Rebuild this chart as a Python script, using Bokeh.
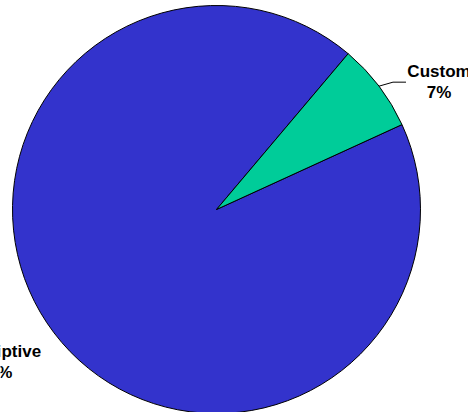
import numpy as np
from bokeh.plotting import figure
from bokeh.models import Range1d
from bokeh.core.properties import value
from bokeh.embed import file_html
from bokeh.resources import INLINE

categories = ["Descriptive", "Custom"]
values = [93, 7]
pct_labels = ["93%", "7%"]
colors = ["#3333CC", "#00CC99"]

W, H = 468, 412
cx, cy, R = 216, H - 209, 204
start_deg = 49.8

p = figure(width=W, height=H, output_backend="svg", toolbar_location=None,
           x_range=Range1d(0, W), y_range=Range1d(0, H), min_border=0)
p.axis.visible = False
p.grid.visible = False
p.outline_line_color = None
p.background_fill_color = "white"

vals = np.array(values, dtype=float)
fr = vals / vals.sum()
cum = np.concatenate([[0], np.cumsum(fr)])
starts = np.deg2rad(start_deg) + cum[:-1] * 2 * np.pi
ends = np.deg2rad(start_deg) + cum[1:] * 2 * np.pi
mids = (starts + ends) / 2

p.wedge(x=cx, y=cy, radius=R, start_angle=list(starts), end_angle=list(ends),
        fill_color=colors, line_color="black", line_width=1)

font = value("Liberation Sans")
for i, cat in enumerate(categories):
    ex, ey = cx + R * np.cos(mids[i]), cy + R * np.sin(mids[i])
    if cat == "Custom":
        lx, ly = ex + 14, ey + 4
        hx = lx + 13
        p.line([ex, lx, hx], [ey, ly, ly], line_color="black", line_width=1)
        tx, ty = hx + 33, ly
    else:
        tx, ty = cx + 1.3 * R * np.cos(mids[i]) - 10, cy + 1.3 * R * np.sin(mids[i]) + 8
    p.text(x=[tx], y=[ty], text=[cat + "\n" + pct_labels[i]], text_font=font,
           text_font_style="bold", text_font_size="17px", text_align="center",
           text_baseline="middle", text_color="black", text_line_height=1.08)

open("out.html", "w").write(file_html(p, INLINE))
